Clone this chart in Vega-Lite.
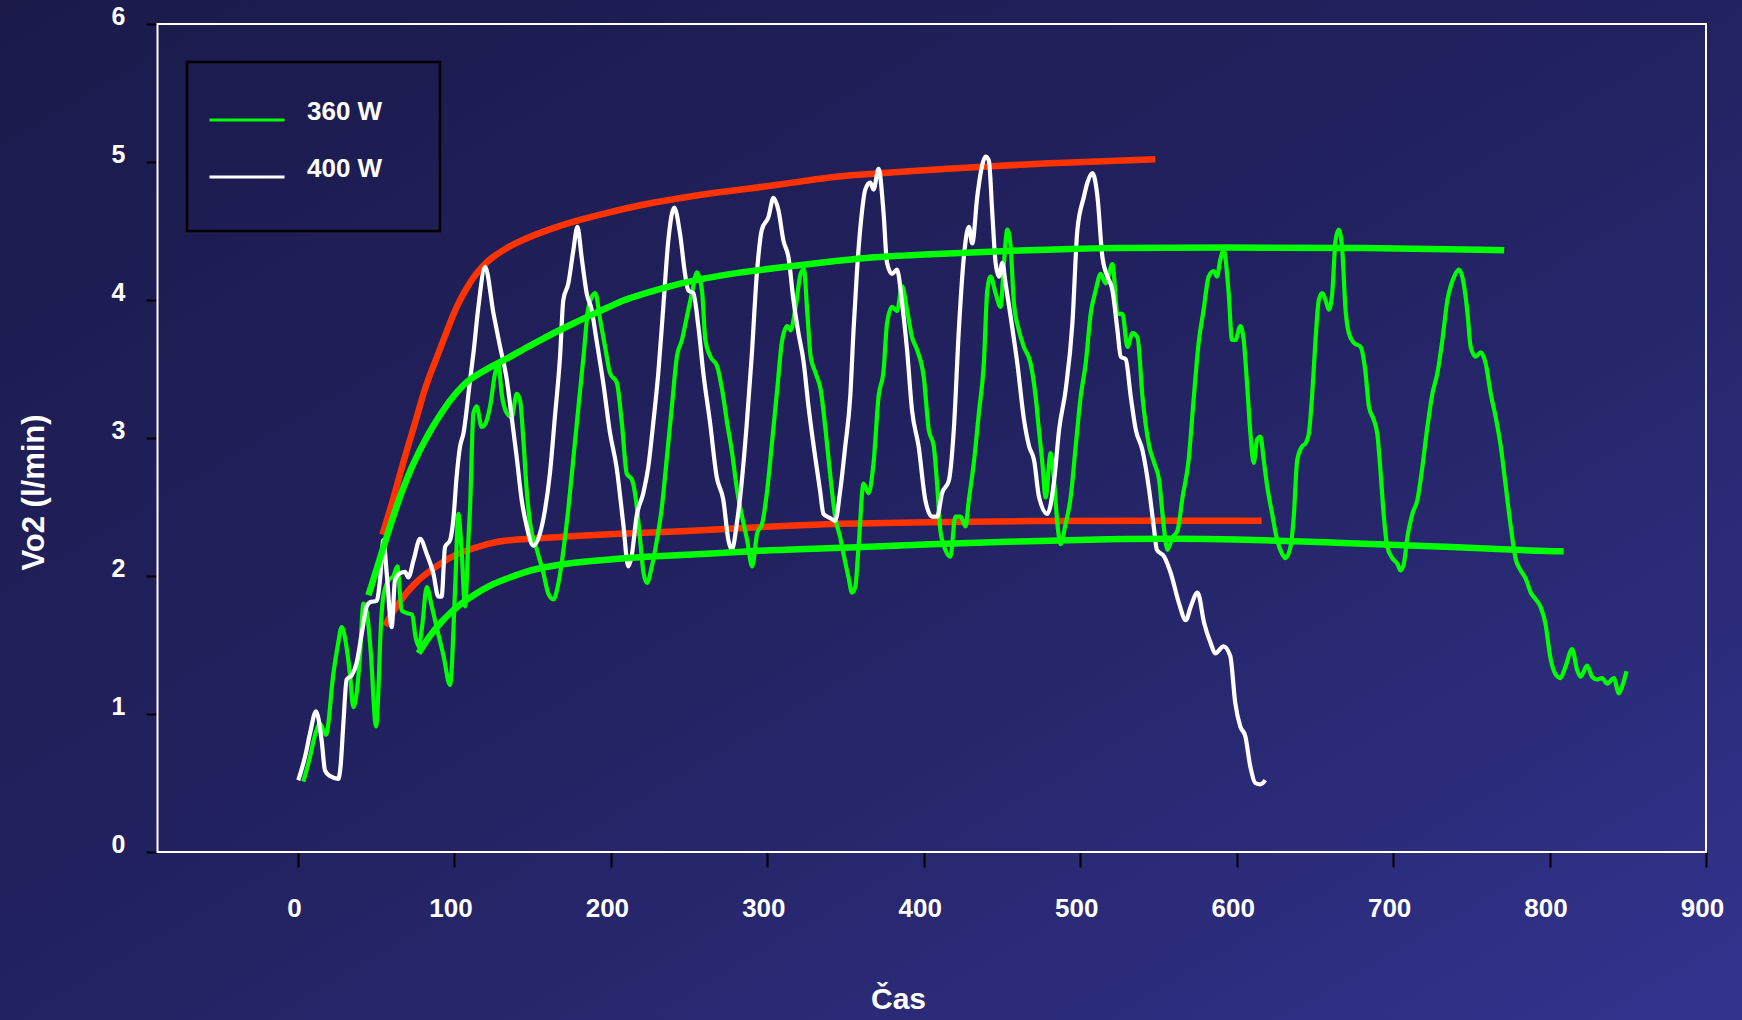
{
  "$schema": "https://vega.github.io/schema/vega-lite/v6.json",
  "width": 1742,
  "height": 1020,
  "autosize": {"type": "none"},
  "padding": 0,
  "background": "#211f58",
  "datasets": {
    "vo2": [
      {"s":"360 W","t":3.4,"v":0.51},{"s":"360 W","t":7.5,"v":0.68},{"s":"360 W","t":11,"v":0.85},{"s":"360 W","t":14,"v":0.93},{"s":"360 W","t":17.9,"v":0.85},
      {"s":"360 W","t":22.6,"v":1.29},{"s":"360 W","t":25.5,"v":1.5},{"s":"360 W","t":27.9,"v":1.63},{"s":"360 W","t":31.1,"v":1.48},{"s":"360 W","t":33.2,"v":1.29},
      {"s":"360 W","t":35.4,"v":1.05},{"s":"360 W","t":37.5,"v":1.15},{"s":"360 W","t":39.6,"v":1.42},{"s":"360 W","t":41.8,"v":1.8},{"s":"360 W","t":44,"v":1.74},
      {"s":"360 W","t":46.5,"v":1.45},{"s":"360 W","t":49.9,"v":0.91},{"s":"360 W","t":51.5,"v":1.2},{"s":"360 W","t":52.4,"v":1.49},{"s":"360 W","t":54.6,"v":1.86},
      {"s":"360 W","t":58,"v":1.97},{"s":"360 W","t":61,"v":2.0},{"s":"360 W","t":63.5,"v":2.07},{"s":"360 W","t":66.3,"v":1.75},{"s":"360 W","t":69.8,"v":1.73},
      {"s":"360 W","t":73,"v":1.72},{"s":"360 W","t":75.1,"v":1.56},{"s":"360 W","t":77.2,"v":1.49},{"s":"360 W","t":79.3,"v":1.63},{"s":"360 W","t":82.3,"v":1.92},
      {"s":"360 W","t":85.5,"v":1.78},{"s":"360 W","t":88.6,"v":1.63},{"s":"360 W","t":92.9,"v":1.43},{"s":"360 W","t":97.2,"v":1.21},{"s":"360 W","t":100.4,"v":1.9},
      {"s":"360 W","t":102.5,"v":2.45},{"s":"360 W","t":104.5,"v":2.2},{"s":"360 W","t":106.8,"v":1.78},{"s":"360 W","t":108.9,"v":2.26},{"s":"360 W","t":110,"v":2.5},
      {"s":"360 W","t":112.1,"v":3.18},{"s":"360 W","t":114.2,"v":3.23},{"s":"360 W","t":117.4,"v":3.08},{"s":"360 W","t":119.6,"v":3.1},{"s":"360 W","t":122.8,"v":3.23},
      {"s":"360 W","t":126,"v":3.47},{"s":"360 W","t":128.1,"v":3.54},{"s":"360 W","t":130.2,"v":3.32},{"s":"360 W","t":133.5,"v":3.18},{"s":"360 W","t":136.6,"v":3.15},
      {"s":"360 W","t":139.8,"v":3.32},{"s":"360 W","t":142,"v":3.27},{"s":"360 W","t":144.1,"v":2.98},{"s":"360 W","t":146.2,"v":2.62},{"s":"360 W","t":148.4,"v":2.38},
      {"s":"360 W","t":152.7,"v":2.19},{"s":"360 W","t":156.9,"v":2.02},{"s":"360 W","t":160.1,"v":1.87},{"s":"360 W","t":163.3,"v":1.83},{"s":"360 W","t":166.5,"v":1.95},
      {"s":"360 W","t":169.7,"v":2.19},{"s":"360 W","t":172.9,"v":2.5},{"s":"360 W","t":176.1,"v":2.86},{"s":"360 W","t":179.3,"v":3.23},{"s":"360 W","t":182.5,"v":3.59},
      {"s":"360 W","t":185.7,"v":3.95},{"s":"360 W","t":190,"v":4.05},{"s":"360 W","t":193.1,"v":3.86},{"s":"360 W","t":196.3,"v":3.66},{"s":"360 W","t":199.5,"v":3.47},
      {"s":"360 W","t":203.8,"v":3.4},{"s":"360 W","t":207,"v":3.11},{"s":"360 W","t":210.2,"v":2.74},{"s":"360 W","t":213.4,"v":2.7},{"s":"360 W","t":216.6,"v":2.5},
      {"s":"360 W","t":218.7,"v":2.26},{"s":"360 W","t":220.9,"v":2.02},{"s":"360 W","t":223,"v":1.95},{"s":"360 W","t":226.2,"v":2.07},{"s":"360 W","t":229.4,"v":2.26},
      {"s":"360 W","t":232.6,"v":2.5},{"s":"360 W","t":235.8,"v":2.86},{"s":"360 W","t":239,"v":3.23},{"s":"360 W","t":242.2,"v":3.59},{"s":"360 W","t":245.4,"v":3.71},
      {"s":"360 W","t":248.6,"v":3.88},{"s":"360 W","t":251.8,"v":4.05},{"s":"360 W","t":255,"v":4.2},{"s":"360 W","t":258.2,"v":4.07},{"s":"360 W","t":260.4,"v":3.71},
      {"s":"360 W","t":263.6,"v":3.59},{"s":"360 W","t":267.9,"v":3.52},{"s":"360 W","t":271.1,"v":3.35},{"s":"360 W","t":274.3,"v":3.11},{"s":"360 W","t":277.5,"v":2.89},
      {"s":"360 W","t":280.7,"v":2.62},{"s":"360 W","t":283.9,"v":2.43},{"s":"360 W","t":287.1,"v":2.26},{"s":"360 W","t":290.3,"v":2.07},{"s":"360 W","t":293.5,"v":2.31},
      {"s":"360 W","t":296.7,"v":2.38},{"s":"360 W","t":299.9,"v":2.62},{"s":"360 W","t":303.1,"v":2.98},{"s":"360 W","t":306.3,"v":3.35},{"s":"360 W","t":309.5,"v":3.71},
      {"s":"360 W","t":312.7,"v":3.81},{"s":"360 W","t":314.9,"v":3.78},{"s":"360 W","t":318.1,"v":3.95},{"s":"360 W","t":321.3,"v":4.19},{"s":"360 W","t":323.4,"v":4.22},
      {"s":"360 W","t":325.6,"v":3.9},{"s":"360 W","t":327.7,"v":3.59},{"s":"360 W","t":330.9,"v":3.47},{"s":"360 W","t":334.1,"v":3.35},{"s":"360 W","t":337.3,"v":3.05},
      {"s":"360 W","t":340.5,"v":2.7},{"s":"360 W","t":343.5,"v":2.42},{"s":"360 W","t":346.6,"v":2.28},{"s":"360 W","t":348.7,"v":2.16},{"s":"360 W","t":351.9,"v":1.99},
      {"s":"360 W","t":354.1,"v":1.88},{"s":"360 W","t":356.2,"v":1.92},{"s":"360 W","t":358.3,"v":2.21},{"s":"360 W","t":361.5,"v":2.67},{"s":"360 W","t":364.7,"v":2.6},
      {"s":"360 W","t":367.9,"v":2.82},{"s":"360 W","t":371.1,"v":3.3},{"s":"360 W","t":374.3,"v":3.49},{"s":"360 W","t":376.5,"v":3.83},{"s":"360 W","t":379.7,"v":3.95},
      {"s":"360 W","t":382.9,"v":3.92},{"s":"360 W","t":386.1,"v":4.1},{"s":"360 W","t":389.3,"v":3.93},{"s":"360 W","t":392.5,"v":3.73},{"s":"360 W","t":395.7,"v":3.64},
      {"s":"360 W","t":400,"v":3.44},{"s":"360 W","t":403.2,"v":3.06},{"s":"360 W","t":406.4,"v":2.94},{"s":"360 W","t":408.5,"v":2.67},{"s":"360 W","t":410.6,"v":2.33},
      {"s":"360 W","t":413.8,"v":2.19},{"s":"360 W","t":417,"v":2.14},{"s":"360 W","t":420.2,"v":2.43},{"s":"360 W","t":423.5,"v":2.43},{"s":"360 W","t":426.7,"v":2.36},
      {"s":"360 W","t":428.8,"v":2.55},{"s":"360 W","t":432,"v":2.82},{"s":"360 W","t":435.2,"v":3.18},{"s":"360 W","t":438.4,"v":3.54},{"s":"360 W","t":440.6,"v":4.07},
      {"s":"360 W","t":442.7,"v":4.17},{"s":"360 W","t":445.9,"v":4.05},{"s":"360 W","t":449.1,"v":3.95},{"s":"360 W","t":451.2,"v":4.26},{"s":"360 W","t":453.4,"v":4.51},
      {"s":"360 W","t":455.5,"v":4.39},{"s":"360 W","t":457.6,"v":3.98},{"s":"360 W","t":460.8,"v":3.78},{"s":"360 W","t":464,"v":3.66},{"s":"360 W","t":468.3,"v":3.54},
      {"s":"360 W","t":471.5,"v":3.3},{"s":"360 W","t":473.6,"v":3.06},{"s":"360 W","t":475.8,"v":2.82},{"s":"360 W","t":477.9,"v":2.57},{"s":"360 W","t":481.1,"v":2.89},
      {"s":"360 W","t":483.3,"v":2.69},{"s":"360 W","t":485.4,"v":2.38},{"s":"360 W","t":487.5,"v":2.23},{"s":"360 W","t":490.7,"v":2.38},{"s":"360 W","t":493.9,"v":2.57},
      {"s":"360 W","t":497.1,"v":2.94},{"s":"360 W","t":500.3,"v":3.3},{"s":"360 W","t":503.5,"v":3.54},{"s":"360 W","t":506.7,"v":3.9},{"s":"360 W","t":509.9,"v":4.07},
      {"s":"360 W","t":513.1,"v":4.19},{"s":"360 W","t":516.3,"v":4.12},{"s":"360 W","t":520.6,"v":4.26},{"s":"360 W","t":523.8,"v":3.9},{"s":"360 W","t":527,"v":3.9},
      {"s":"360 W","t":530.2,"v":3.66},{"s":"360 W","t":533.4,"v":3.76},{"s":"360 W","t":536.6,"v":3.73},{"s":"360 W","t":539.8,"v":3.3},{"s":"360 W","t":544.1,"v":2.94},
      {"s":"360 W","t":547.3,"v":2.82},{"s":"360 W","t":550.5,"v":2.69},{"s":"360 W","t":552.6,"v":2.45},{"s":"360 W","t":555.8,"v":2.19},{"s":"360 W","t":559,"v":2.28},
      {"s":"360 W","t":562.2,"v":2.33},{"s":"360 W","t":565.4,"v":2.57},{"s":"360 W","t":569.3,"v":2.84},{"s":"360 W","t":572.5,"v":3.28},{"s":"360 W","t":575.7,"v":3.69},
      {"s":"360 W","t":578.9,"v":3.93},{"s":"360 W","t":582.1,"v":4.17},{"s":"360 W","t":585.3,"v":4.21},{"s":"360 W","t":587.4,"v":4.17},{"s":"360 W","t":589.5,"v":4.29},
      {"s":"360 W","t":591.7,"v":4.36},{"s":"360 W","t":594.9,"v":4.05},{"s":"360 W","t":597,"v":3.71},{"s":"360 W","t":599.2,"v":3.71},{"s":"360 W","t":602.4,"v":3.81},
      {"s":"360 W","t":604.5,"v":3.71},{"s":"360 W","t":606.6,"v":3.4},{"s":"360 W","t":608.8,"v":3.03},{"s":"360 W","t":610.9,"v":2.82},{"s":"360 W","t":613.1,"v":2.99},
      {"s":"360 W","t":615.2,"v":3.01},{"s":"360 W","t":617.3,"v":2.84},{"s":"360 W","t":619.5,"v":2.65},{"s":"360 W","t":622.7,"v":2.45},{"s":"360 W","t":625.9,"v":2.26},
      {"s":"360 W","t":629.1,"v":2.16},{"s":"360 W","t":631.2,"v":2.13},{"s":"360 W","t":634.4,"v":2.21},{"s":"360 W","t":636.5,"v":2.43},{"s":"360 W","t":638.7,"v":2.84},
      {"s":"360 W","t":641.9,"v":2.94},{"s":"360 W","t":644,"v":2.96},{"s":"360 W","t":646.1,"v":3.03},{"s":"360 W","t":648.3,"v":3.32},{"s":"360 W","t":650.4,"v":3.71},
      {"s":"360 W","t":652.5,"v":4.0},{"s":"360 W","t":654.7,"v":4.05},{"s":"360 W","t":656.8,"v":4.0},{"s":"360 W","t":658.9,"v":3.93},{"s":"360 W","t":661.1,"v":4.05},
      {"s":"360 W","t":663.2,"v":4.43},{"s":"360 W","t":665.3,"v":4.51},{"s":"360 W","t":667.5,"v":4.36},{"s":"360 W","t":669.6,"v":3.93},{"s":"360 W","t":671.7,"v":3.76},
      {"s":"360 W","t":674.9,"v":3.69},{"s":"360 W","t":679.2,"v":3.66},{"s":"360 W","t":682.4,"v":3.47},{"s":"360 W","t":684.5,"v":3.23},{"s":"360 W","t":687.7,"v":3.13},
      {"s":"360 W","t":689.9,"v":3.03},{"s":"360 W","t":692,"v":2.75},{"s":"360 W","t":694.1,"v":2.43},{"s":"360 W","t":696.3,"v":2.21},{"s":"360 W","t":699.5,"v":2.13},
      {"s":"360 W","t":702.7,"v":2.09},{"s":"360 W","t":704.8,"v":2.04},{"s":"360 W","t":706.9,"v":2.09},{"s":"360 W","t":709.1,"v":2.28},{"s":"360 W","t":712.3,"v":2.45},
      {"s":"360 W","t":715.5,"v":2.55},{"s":"360 W","t":718.7,"v":2.79},{"s":"360 W","t":721.9,"v":3.08},{"s":"360 W","t":725.1,"v":3.32},{"s":"360 W","t":728.3,"v":3.47},
      {"s":"360 W","t":731.5,"v":3.71},{"s":"360 W","t":734.7,"v":4.0},{"s":"360 W","t":736.8,"v":4.1},{"s":"360 W","t":739,"v":4.17},{"s":"360 W","t":742.2,"v":4.22},
      {"s":"360 W","t":745.4,"v":4.1},{"s":"360 W","t":747.5,"v":3.91},{"s":"360 W","t":749.6,"v":3.66},{"s":"360 W","t":752.8,"v":3.59},{"s":"360 W","t":756,"v":3.62},
      {"s":"360 W","t":759.2,"v":3.54},{"s":"360 W","t":762.4,"v":3.32},{"s":"360 W","t":765.6,"v":3.15},{"s":"360 W","t":768.8,"v":2.94},{"s":"360 W","t":772,"v":2.65},
      {"s":"360 W","t":775.2,"v":2.36},{"s":"360 W","t":778.4,"v":2.12},{"s":"360 W","t":781.6,"v":2.04},{"s":"360 W","t":784.8,"v":1.98},{"s":"360 W","t":788,"v":1.88},
      {"s":"360 W","t":791.2,"v":1.83},{"s":"360 W","t":794.1,"v":1.78},{"s":"360 W","t":797.3,"v":1.66},{"s":"360 W","t":800.5,"v":1.41},{"s":"360 W","t":803.7,"v":1.29},
      {"s":"360 W","t":806.9,"v":1.26},{"s":"360 W","t":810.1,"v":1.34},{"s":"360 W","t":814.4,"v":1.47},{"s":"360 W","t":817.6,"v":1.32},{"s":"360 W","t":819.8,"v":1.27},
      {"s":"360 W","t":824,"v":1.35},{"s":"360 W","t":827.2,"v":1.27},{"s":"360 W","t":830.4,"v":1.25},{"s":"360 W","t":833.6,"v":1.26},{"s":"360 W","t":836.8,"v":1.22},
      {"s":"360 W","t":841.1,"v":1.26},{"s":"360 W","t":844.3,"v":1.15},{"s":"360 W","t":846.4,"v":1.2},{"s":"360 W","t":849.2,"v":1.31},
      {"s":"400 W","t":0.2,"v":0.52},{"s":"400 W","t":4.5,"v":0.69},{"s":"400 W","t":7.7,"v":0.86},{"s":"400 W","t":11.5,"v":1.02},{"s":"400 W","t":15.1,"v":0.81},
      {"s":"400 W","t":17.3,"v":0.59},{"s":"400 W","t":20.5,"v":0.55},{"s":"400 W","t":25.8,"v":0.53},{"s":"400 W","t":27.2,"v":0.62},{"s":"400 W","t":29,"v":0.93},
      {"s":"400 W","t":31.1,"v":1.25},{"s":"400 W","t":34.3,"v":1.28},{"s":"400 W","t":37.5,"v":1.37},{"s":"400 W","t":40.7,"v":1.58},{"s":"400 W","t":43.9,"v":1.78},
      {"s":"400 W","t":46,"v":1.81},{"s":"400 W","t":50.3,"v":1.82},{"s":"400 W","t":52.4,"v":1.97},{"s":"400 W","t":54.6,"v":2.26},{"s":"400 W","t":56.7,"v":2.02},
      {"s":"400 W","t":59.9,"v":1.63},{"s":"400 W","t":62,"v":1.97},{"s":"400 W","t":65.2,"v":2.02},{"s":"400 W","t":68.4,"v":2.03},{"s":"400 W","t":70.5,"v":1.99},
      {"s":"400 W","t":74,"v":2.12},{"s":"400 W","t":78,"v":2.27},{"s":"400 W","t":82.3,"v":2.16},{"s":"400 W","t":86.5,"v":2.02},{"s":"400 W","t":89.7,"v":1.85},
      {"s":"400 W","t":91.8,"v":1.85},{"s":"400 W","t":94,"v":2.21},{"s":"400 W","t":97.2,"v":2.26},{"s":"400 W","t":99.3,"v":2.41},{"s":"400 W","t":101.4,"v":2.72},
      {"s":"400 W","t":103.6,"v":2.94},{"s":"400 W","t":105.7,"v":3.03},{"s":"400 W","t":110,"v":3.42},{"s":"400 W","t":112.1,"v":3.61},{"s":"400 W","t":115.3,"v":3.95},
      {"s":"400 W","t":119.6,"v":4.24},{"s":"400 W","t":125,"v":3.9},{"s":"400 W","t":129.2,"v":3.66},{"s":"400 W","t":133.5,"v":3.42},{"s":"400 W","t":136.6,"v":3.15},
      {"s":"400 W","t":139.8,"v":2.86},{"s":"400 W","t":143,"v":2.55},{"s":"400 W","t":146.2,"v":2.36},{"s":"400 W","t":150.4,"v":2.22},{"s":"400 W","t":154.7,"v":2.31},
      {"s":"400 W","t":157.9,"v":2.48},{"s":"400 W","t":161,"v":2.74},{"s":"400 W","t":164.2,"v":3.15},{"s":"400 W","t":167.5,"v":3.59},{"s":"400 W","t":169.6,"v":4.0},
      {"s":"400 W","t":172.8,"v":4.12},{"s":"400 W","t":176,"v":4.36},{"s":"400 W","t":178.6,"v":4.53},{"s":"400 W","t":181.3,"v":4.31},{"s":"400 W","t":184.5,"v":4.05},
      {"s":"400 W","t":187.7,"v":3.93},{"s":"400 W","t":190.8,"v":3.71},{"s":"400 W","t":195.1,"v":3.4},{"s":"400 W","t":199.4,"v":3.04},{"s":"400 W","t":203.6,"v":2.79},
      {"s":"400 W","t":207.9,"v":2.38},{"s":"400 W","t":211.1,"v":2.07},{"s":"400 W","t":213.2,"v":2.14},{"s":"400 W","t":216.4,"v":2.43},{"s":"400 W","t":220.7,"v":2.6},
      {"s":"400 W","t":223.9,"v":2.79},{"s":"400 W","t":227.1,"v":3.11},{"s":"400 W","t":230.3,"v":3.47},{"s":"400 W","t":233.5,"v":3.95},{"s":"400 W","t":236.7,"v":4.43},
      {"s":"400 W","t":240.5,"v":4.67},{"s":"400 W","t":244.2,"v":4.48},{"s":"400 W","t":247.4,"v":4.19},{"s":"400 W","t":249.5,"v":4.07},{"s":"400 W","t":252.7,"v":4.05},
      {"s":"400 W","t":255.9,"v":3.81},{"s":"400 W","t":259.1,"v":3.47},{"s":"400 W","t":263.4,"v":3.11},{"s":"400 W","t":267.6,"v":2.72},{"s":"400 W","t":271.9,"v":2.55},
      {"s":"400 W","t":275.1,"v":2.26},{"s":"400 W","t":277.3,"v":2.19},{"s":"400 W","t":280.5,"v":2.38},{"s":"400 W","t":283.7,"v":2.69},{"s":"400 W","t":286.9,"v":3.11},
      {"s":"400 W","t":290,"v":3.59},{"s":"400 W","t":293.3,"v":4.19},{"s":"400 W","t":296.5,"v":4.51},{"s":"400 W","t":300.7,"v":4.6},{"s":"400 W","t":303.9,"v":4.74},
      {"s":"400 W","t":307.1,"v":4.65},{"s":"400 W","t":310.3,"v":4.43},{"s":"400 W","t":313.5,"v":4.31},{"s":"400 W","t":316.7,"v":4.0},{"s":"400 W","t":319.9,"v":3.76},
      {"s":"400 W","t":323.1,"v":3.56},{"s":"400 W","t":326.3,"v":3.23},{"s":"400 W","t":330.5,"v":2.87},{"s":"400 W","t":333.7,"v":2.62},{"s":"400 W","t":335.9,"v":2.45},
      {"s":"400 W","t":340.1,"v":2.42},{"s":"400 W","t":343.4,"v":2.4},{"s":"400 W","t":346.6,"v":2.62},{"s":"400 W","t":349.8,"v":2.94},{"s":"400 W","t":353,"v":3.3},
      {"s":"400 W","t":355.1,"v":3.78},{"s":"400 W","t":357.2,"v":4.19},{"s":"400 W","t":360.4,"v":4.63},{"s":"400 W","t":362.6,"v":4.8},{"s":"400 W","t":365.8,"v":4.85},
      {"s":"400 W","t":367.9,"v":4.8},{"s":"400 W","t":371.1,"v":4.95},{"s":"400 W","t":374.3,"v":4.63},{"s":"400 W","t":376.5,"v":4.27},{"s":"400 W","t":379.7,"v":4.19},
      {"s":"400 W","t":382.9,"v":4.22},{"s":"400 W","t":386.1,"v":3.98},{"s":"400 W","t":389.3,"v":3.64},{"s":"400 W","t":392.5,"v":3.2},{"s":"400 W","t":396.7,"v":2.94},
      {"s":"400 W","t":401,"v":2.55},{"s":"400 W","t":405.3,"v":2.43},{"s":"400 W","t":408.5,"v":2.43},{"s":"400 W","t":411.7,"v":2.6},{"s":"400 W","t":416,"v":2.69},
      {"s":"400 W","t":419.2,"v":3.06},{"s":"400 W","t":422.4,"v":3.78},{"s":"400 W","t":425.6,"v":4.31},{"s":"400 W","t":428.8,"v":4.53},{"s":"400 W","t":431,"v":4.41},
      {"s":"400 W","t":434.2,"v":4.75},{"s":"400 W","t":437.4,"v":4.98},{"s":"400 W","t":439.5,"v":5.04},{"s":"400 W","t":441.6,"v":5.01},{"s":"400 W","t":443.8,"v":4.63},
      {"s":"400 W","t":445.9,"v":4.27},{"s":"400 W","t":448.1,"v":4.17},{"s":"400 W","t":450.2,"v":4.27},{"s":"400 W","t":452.3,"v":4.12},{"s":"400 W","t":455.5,"v":3.88},
      {"s":"400 W","t":459.8,"v":3.54},{"s":"400 W","t":464.1,"v":3.13},{"s":"400 W","t":467.3,"v":2.94},{"s":"400 W","t":470.5,"v":2.84},{"s":"400 W","t":473.7,"v":2.57},
      {"s":"400 W","t":479,"v":2.45},{"s":"400 W","t":483.3,"v":2.69},{"s":"400 W","t":486.5,"v":3.06},{"s":"400 W","t":490.7,"v":3.35},{"s":"400 W","t":495,"v":3.83},
      {"s":"400 W","t":498.2,"v":4.51},{"s":"400 W","t":502.4,"v":4.75},{"s":"400 W","t":504.6,"v":4.85},{"s":"400 W","t":507.8,"v":4.92},{"s":"400 W","t":511,"v":4.75},
      {"s":"400 W","t":514.2,"v":4.31},{"s":"400 W","t":517.4,"v":4.17},{"s":"400 W","t":520.6,"v":4.07},{"s":"400 W","t":523.8,"v":3.78},{"s":"400 W","t":525.9,"v":3.59},
      {"s":"400 W","t":529.1,"v":3.57},{"s":"400 W","t":532.3,"v":3.3},{"s":"400 W","t":535.5,"v":3.06},{"s":"400 W","t":539.8,"v":2.91},{"s":"400 W","t":544.1,"v":2.62},
      {"s":"400 W","t":547.3,"v":2.33},{"s":"400 W","t":549,"v":2.19},{"s":"400 W","t":553.7,"v":2.14},{"s":"400 W","t":557.9,"v":2.02},{"s":"400 W","t":563.2,"v":1.8},
      {"s":"400 W","t":567.5,"v":1.68},{"s":"400 W","t":570.7,"v":1.78},{"s":"400 W","t":575,"v":1.88},{"s":"400 W","t":579.2,"v":1.66},{"s":"400 W","t":583.5,"v":1.51},
      {"s":"400 W","t":586.3,"v":1.44},{"s":"400 W","t":591.6,"v":1.49},{"s":"400 W","t":595.9,"v":1.42},{"s":"400 W","t":599.1,"v":1.08},{"s":"400 W","t":602.3,"v":0.91},
      {"s":"400 W","t":605.5,"v":0.84},{"s":"400 W","t":608.7,"v":0.62},{"s":"400 W","t":611.9,"v":0.5},{"s":"400 W","t":615.1,"v":0.49},{"s":"400 W","t":618.3,"v":0.52}
    ],
    "redFit": [
      {"c":"a","t":54,"v":2.3},{"c":"a","t":60,"v":2.52},{"c":"a","t":65,"v":2.73},{"c":"a","t":70,"v":2.93},{"c":"a","t":76,"v":3.15},
      {"c":"a","t":81,"v":3.36},{"c":"a","t":86.5,"v":3.52},{"c":"a","t":91,"v":3.65},{"c":"a","t":97,"v":3.83},{"c":"a","t":102,"v":3.97},
      {"c":"a","t":108,"v":4.09},{"c":"a","t":113,"v":4.18},{"c":"a","t":118.5,"v":4.25},{"c":"a","t":123,"v":4.3},{"c":"a","t":132,"v":4.37},
      {"c":"a","t":144,"v":4.44},{"c":"a","t":160,"v":4.51},{"c":"a","t":176,"v":4.57},{"c":"a","t":197,"v":4.63},{"c":"a","t":219,"v":4.69},
      {"c":"a","t":240,"v":4.73},{"c":"a","t":261,"v":4.77},{"c":"a","t":290,"v":4.81},{"c":"a","t":304,"v":4.83},{"c":"a","t":334,"v":4.88},
      {"c":"a","t":347,"v":4.9},{"c":"a","t":400,"v":4.94},{"c":"a","t":440,"v":4.97},{"c":"a","t":500,"v":5.0},{"c":"a","t":548,"v":5.02},
      {"c":"b","t":55.6,"v":1.64},{"c":"b","t":60,"v":1.73},{"c":"b","t":65,"v":1.81},{"c":"b","t":69.5,"v":1.88},{"c":"b","t":75,"v":1.95},
      {"c":"b","t":80,"v":2.0},{"c":"b","t":86,"v":2.05},{"c":"b","t":91,"v":2.09},{"c":"b","t":101,"v":2.16},{"c":"b","t":112,"v":2.2},
      {"c":"b","t":123,"v":2.24},{"c":"b","t":134,"v":2.26},{"c":"b","t":150,"v":2.27},{"c":"b","t":176,"v":2.29},{"c":"b","t":210,"v":2.31},
      {"c":"b","t":240,"v":2.32},{"c":"b","t":304,"v":2.36},{"c":"b","t":346,"v":2.38},{"c":"b","t":400,"v":2.39},{"c":"b","t":470,"v":2.4},
      {"c":"b","t":540,"v":2.4},{"c":"b","t":616,"v":2.4}
    ],
    "greenFit": [
      {"c":"a","t":45,"v":1.86},{"c":"a","t":50,"v":2.04},{"c":"a","t":54.6,"v":2.21},{"c":"a","t":60,"v":2.4},{"c":"a","t":65,"v":2.57},
      {"c":"a","t":70,"v":2.72},{"c":"a","t":76,"v":2.87},{"c":"a","t":81,"v":2.98},{"c":"a","t":86.5,"v":3.09},{"c":"a","t":91,"v":3.17},
      {"c":"a","t":97,"v":3.27},{"c":"a","t":102,"v":3.34},{"c":"a","t":108,"v":3.41},{"c":"a","t":112,"v":3.44},{"c":"a","t":122,"v":3.51},
      {"c":"a","t":133,"v":3.57},{"c":"a","t":145,"v":3.65},{"c":"a","t":155,"v":3.71},{"c":"a","t":165,"v":3.77},{"c":"a","t":176,"v":3.83},
      {"c":"a","t":187,"v":3.89},{"c":"a","t":197,"v":3.94},{"c":"a","t":208,"v":4.0},{"c":"a","t":219,"v":4.04},{"c":"a","t":240,"v":4.11},
      {"c":"a","t":261,"v":4.16},{"c":"a","t":282,"v":4.2},{"c":"a","t":304,"v":4.23},{"c":"a","t":334,"v":4.27},{"c":"a","t":364,"v":4.31},
      {"c":"a","t":400,"v":4.33},{"c":"a","t":462,"v":4.36},{"c":"a","t":520,"v":4.38},{"c":"a","t":590,"v":4.38},{"c":"a","t":680,"v":4.38},
      {"c":"a","t":771,"v":4.36},
      {"c":"b","t":77,"v":1.44},{"c":"b","t":82,"v":1.53},{"c":"b","t":86.5,"v":1.6},{"c":"b","t":91,"v":1.66},{"c":"b","t":97,"v":1.73},
      {"c":"b","t":102,"v":1.78},{"c":"b","t":108,"v":1.83},{"c":"b","t":112,"v":1.86},{"c":"b","t":122,"v":1.93},{"c":"b","t":133,"v":1.98},
      {"c":"b","t":145,"v":2.03},{"c":"b","t":155,"v":2.06},{"c":"b","t":176,"v":2.1},{"c":"b","t":200,"v":2.12},{"c":"b","t":219,"v":2.14},
      {"c":"b","t":261,"v":2.16},{"c":"b","t":304,"v":2.19},{"c":"b","t":334,"v":2.2},{"c":"b","t":364,"v":2.21},{"c":"b","t":400,"v":2.23},
      {"c":"b","t":462,"v":2.25},{"c":"b","t":520,"v":2.27},{"c":"b","t":565,"v":2.27},{"c":"b","t":590,"v":2.27},{"c":"b","t":670,"v":2.24},
      {"c":"b","t":740,"v":2.21},{"c":"b","t":794,"v":2.18},{"c":"b","t":809,"v":2.18}
    ]
  },
  "layer": [
    {
      "data": {"values": [{}]},
      "mark": {"type": "rect", "filled": false, "color": "#ffffff", "strokeWidth": 2},
      "encoding": {
        "x": {
          "datum": -89.8, "type": "quantitative",
          "scale": {"domain": [-190.48, 923.01], "nice": false, "zero": false},
          "axis": {
            "values": [0, 100, 200, 300, 400, 500, 600, 700, 800, 900], "format": "d",
            "offset": -168, "tickSize": 15, "labelPadding": 28, "labelFontSize": 26, "labelOffset": -4, "labelFlush": false,
            "title": "Čas", "titleFontSize": 30, "titleX": 898, "titleY": 156, "titleAlign": "center", "titleBaseline": "alphabetic"
          }
        },
        "x2": {"datum": 900},
        "y": {
          "datum": 0, "type": "quantitative",
          "scale": {"domain": [-1.2174, 6.1739], "nice": false, "zero": false},
          "axis": {
            "values": [0, 1, 2, 3, 4, 5, 6], "format": "d",
            "offset": -158, "tickSize": 12, "labelPadding": 21, "labelFontSize": 25, "labelOffset": -7,
            "title": "Vo2 (l/min)", "titleFontSize": 31, "titleAngle": 270, "titleX": -124, "titleY": 492, "titleAlign": "center", "titleBaseline": "middle"
          }
        },
        "y2": {"datum": 6}
      }
    },
    {
      "data": {"name": "redFit"},
      "mark": {"type": "line", "color": "#ff3300", "strokeWidth": 6.5, "interpolate": "basis"},
      "encoding": {
        "x": {"field": "t", "type": "quantitative", "scale": {"domain": [-190.48, 923.01], "nice": false, "zero": false}},
        "y": {"field": "v", "type": "quantitative", "scale": {"domain": [-1.2174, 6.1739], "nice": false, "zero": false}},
        "detail": {"field": "c"}
      }
    },
    {
      "data": {"name": "vo2"},
      "mark": {"type": "line", "interpolate": "monotone", "strokeJoin": "round"},
      "encoding": {
        "x": {"field": "t", "type": "quantitative", "scale": {"domain": [-190.48, 923.01], "nice": false, "zero": false}},
        "y": {"field": "v", "type": "quantitative", "scale": {"domain": [-1.2174, 6.1739], "nice": false, "zero": false}},
        "color": {
          "field": "s", "type": "nominal",
          "scale": {"domain": ["360 W", "400 W"], "range": ["#00ff00", "#ffffff"]},
          "legend": {
            "title": null, "orient": "none", "legendX": 187, "legendY": 62, "padding": 35.5,
            "strokeColor": "#000000",
            "symbolType": "M-3,0.68L3,0.68M12.12,-3.12M12.12,1.68", "symbolSize": 625, "symbolStrokeWidth": 3, "symbolOffset": 10.5,
            "labelOffset": 46, "labelFontSize": 26, "labelFont": "Liberation Sans", "labelFontWeight": "bold", "labelColor": "#ffffff",
            "rowPadding": -15
          }
        },
        "strokeWidth": {"value": 4.2}
      }
    },
    {
      "data": {"name": "greenFit"},
      "mark": {"type": "line", "color": "#00ff00", "strokeWidth": 6.5, "interpolate": "basis"},
      "encoding": {
        "x": {"field": "t", "type": "quantitative", "scale": {"domain": [-190.48, 923.01], "nice": false, "zero": false}},
        "y": {"field": "v", "type": "quantitative", "scale": {"domain": [-1.2174, 6.1739], "nice": false, "zero": false}},
        "detail": {"field": "c"}
      }
    }
  ],
  "config": {
    "view": {
      "stroke": null,
      "fill": {
        "gradient": "linear", "x1": 0, "y1": 0, "x2": 1, "y2": 1,
        "stops": [
          {"offset": 0, "color": "#1b1a4b"},
          {"offset": 0.5, "color": "#232261"},
          {"offset": 0.75, "color": "#2a2a76"},
          {"offset": 1, "color": "#33338f"}
        ]
      }
    },
    "axis": {
      "grid": false, "domain": false,
      "tickColor": "#000000", "tickWidth": 2,
      "labelColor": "#ffffff", "labelFont": "Liberation Sans", "labelFontWeight": "bold",
      "titleColor": "#ffffff", "titleFont": "Liberation Sans", "titleFontWeight": "bold"
    },
    "legend": {"strokeWidth": 2.5}
  }
}
